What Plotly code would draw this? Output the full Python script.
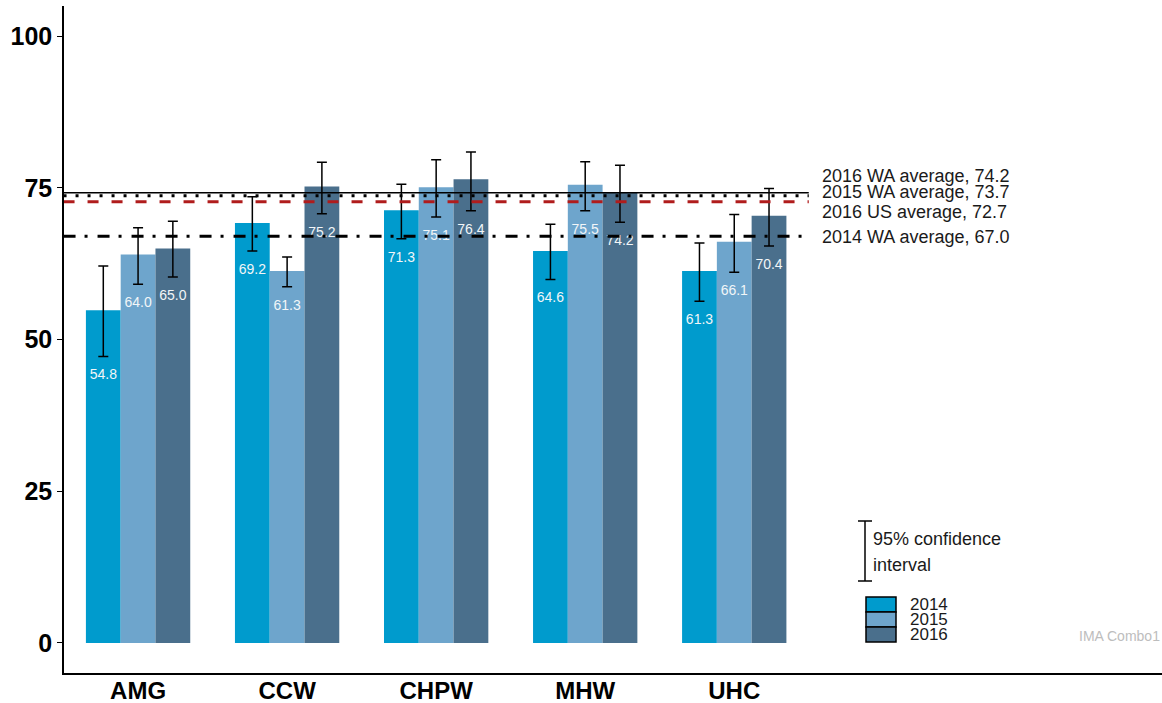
import plotly.graph_objects as go

categories = ["AMG", "CCW", "CHPW", "MHW", "UHC"]
years = ["2014", "2015", "2016"]
values_2014 = [54.8, 69.2, 71.3, 64.6, 61.3]
values_2015 = [64.0, 61.3, 75.1, 75.5, 66.1]
values_2016 = [65.0, 75.2, 76.4, 74.2, 70.4]
ci_low_2014 = [47.2, 64.6, 66.6, 59.9, 56.3]
ci_high_2014 = [62.1, 73.5, 75.6, 69.0, 65.9]
ci_low_2015 = [59.1, 58.7, 70.2, 71.2, 61.1]
ci_high_2015 = [68.4, 63.6, 79.6, 79.3, 70.6]
ci_low_2016 = [60.3, 70.7, 71.2, 69.3, 65.4]
ci_high_2016 = [69.5, 79.2, 80.9, 78.7, 74.9]
ref_labels = ["2016 WA average", "2015 WA average", "2016 US average", "2014 WA average"]
ref_values = [74.2, 73.7, 72.7, 67.0]
ref_label_y = [77.0, 74.3, 71.0, 66.9]
yticks = [0, 25, 50, 75, 100]

colors = ["#009BCD", "#6EA5CC", "#4A6F8C"]
ref_styles = [
    dict(color="black", width=1.5, dash="solid"),
    dict(color="black", width=3, dash="3px,9px"),
    dict(color="#B01C1C", width=3, dash="11px,13px"),
    dict(color="black", width=3, dash="12px,9px,3px,10px"),
]

series = [values_2014, values_2015, values_2016]
lows = [ci_low_2014, ci_low_2015, ci_low_2016]
highs = [ci_high_2014, ci_high_2015, ci_high_2016]

xs = list(range(1, len(categories) + 1))
group_w = 0.7
bar_w = group_w / 3
FONT = "Liberation Sans, Arial"

fig = go.Figure()
for i, yr in enumerate(years):
    vals = series[i]
    fig.add_trace(go.Bar(
        x=xs, y=vals, name=yr, marker=dict(color=colors[i], line=dict(width=0)),
        error_y=dict(type="data", symmetric=False,
                     array=[h - v for h, v in zip(highs[i], vals)],
                     arrayminus=[v - l for l, v in zip(lows[i], vals)],
                     color="black", thickness=1.5, width=5),
        showlegend=False, hoverinfo="skip",
    ))

for i, yr in enumerate(years):
    off = (i - 1) * bar_w
    fig.add_trace(go.Scatter(
        x=[x + off for x in xs], y=[l - 3.2 for l in lows[i]],
        mode="text", text=[f"{v:.1f}" for v in series[i]],
        textfont=dict(family=FONT, size=14, color="#F2F6F8"),
        textposition="middle center", showlegend=False, hoverinfo="skip",
    ))

x_left, x_right = 0.5, 5.5
for lab, val, ly, st in zip(ref_labels, ref_values, ref_label_y, ref_styles):
    fig.add_shape(type="line", xref="x", yref="y", x0=x_left, x1=x_right, y0=val, y1=val,
                  line=st, layer="above")
    fig.add_annotation(x=5.575, y=ly, xref="x", yref="y", text=f"{lab}, {val:.1f}",
                       showarrow=False, xanchor="left", yanchor="middle",
                       font=dict(family=FONT, size=18, color="#1A1A1A"))

# custom legend (pixel -> paper)
L, R, T, B = 64, 1162, 6, 673
def px(x):
    return (x - L) / (R - L)
def py(y):
    return (B - y) / (B - T)

fig.add_shape(type="line", xref="paper", yref="paper", x0=px(865), x1=px(865), y0=py(521), y1=py(581),
              line=dict(color="black", width=1.5))
for yy in (521, 581):
    fig.add_shape(type="line", xref="paper", yref="paper", x0=px(858), x1=px(872), y0=py(yy), y1=py(yy),
                  line=dict(color="black", width=1.5))
fig.add_annotation(x=px(871), y=py(539), xref="paper", yref="paper", text="95% confidence",
                   showarrow=False, xanchor="left", yanchor="middle",
                   font=dict(family=FONT, size=18, color="#1A1A1A"))
fig.add_annotation(x=px(871), y=py(565), xref="paper", yref="paper", text="interval",
                   showarrow=False, xanchor="left", yanchor="middle",
                   font=dict(family=FONT, size=18, color="#1A1A1A"))
for i, yr in enumerate(years):
    top = 597 + i * 15
    fig.add_shape(type="rect", xref="paper", yref="paper", x0=px(866), x1=px(896),
                  y0=py(top), y1=py(top + 15), fillcolor=colors[i],
                  line=dict(color="black", width=1.5))
    fig.add_annotation(x=px(908), y=py(top + 7), xref="paper", yref="paper", text=yr,
                       showarrow=False, xanchor="left", yanchor="middle",
                       font=dict(family=FONT, size=17, color="#1A1A1A"))

fig.add_annotation(x=1.0, y=py(636), xref="paper", yref="paper", text="IMA Combo1",
                   showarrow=False, xanchor="right", yanchor="middle",
                   font=dict(family=FONT, size=14, color="#BDBDBD"))

fig.update_layout(
    width=1162, height=703,
    margin=dict(l=64, r=0, t=6, b=30),
    paper_bgcolor="white", plot_bgcolor="white",
    barmode="group", bargap=0.3, bargroupgap=0,
    showlegend=False,
    font=dict(family=FONT, color="black"),
)
fig.update_xaxes(range=[0.503, 7.87], tickvals=xs, ticktext=categories, automargin=False,
                 showgrid=False, zeroline=False, showline=True, linecolor="black", linewidth=1.5,
                 ticks="", ticklabelstandoff=-5,
                 tickfont=dict(family=FONT, size=24, color="black", weight="bold"))
fig.update_yaxes(range=[-4.95, 104.95], tickvals=yticks, showgrid=False, zeroline=False,
                 automargin=False,
                 showline=True, linecolor="black", linewidth=1.5, ticks="outside", ticklen=5,
                 tickwidth=1.2, tickcolor="black",
                 tickfont=dict(family=FONT, size=25, color="black", weight="bold"))

fig.write_html("out.html", config={"displayModeBar": False},
               post_script="document.body.style.margin='0';document.body.style.overflow='hidden';")
